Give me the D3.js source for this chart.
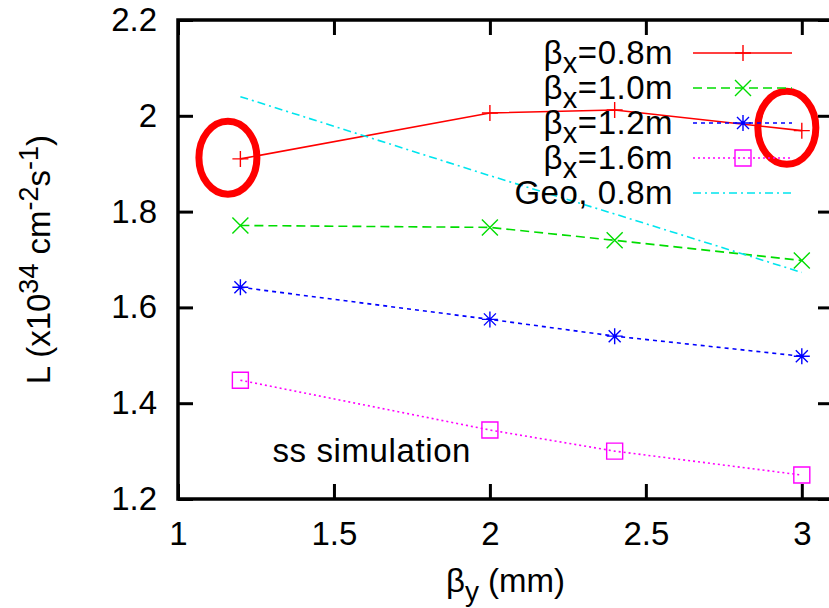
<!DOCTYPE html>
<html>
<head>
<meta charset="utf-8">
<script src="https://cdn.jsdelivr.net/npm/d3@7"></script>
<style>
body { margin: 0; background: #fff; }
svg { display: block; }
text { font-family: "Liberation Sans", Arial, sans-serif; fill: #000; }
</style>
</head>
<body>
<div id="chart"></div>
<script>
// values
var betaY = [1.2, 2.0, 2.4, 3.0];
var lumi08 = [1.910, 2.006, 2.012, 1.969];
var lumi10 = [1.771, 1.767, 1.740, 1.698];
var lumi12 = [1.642, 1.575, 1.540, 1.498];
var lumi16 = [1.448, 1.344, 1.300, 1.250];
var geo08 = [2.040, 1.875, 1.795, 1.673];
var legendLabels = ["=0.8m", "=1.0m", "=1.2m", "=1.6m", "Geo, 0.8m"];
var xTicks = [1, 1.5, 2, 2.5, 3];
var yTicks = [1.2, 1.4, 1.6, 1.8, 2, 2.2];
// red rings drawn over the plot (data coords)
var ringX = [1.16, 2.952];
var ringY = [1.9125, 1.975];

// settings
var margin = {top: 20, right: 0, bottom: 0, left: 178},
    width = 655,
    height = 479;

var svg = d3.select("#chart")
  .append("svg")
  .attr("width", 829)
  .attr("height", 608)
  .style("overflow", "hidden");

var g = svg.append("g")
  .attr("transform", "translate(" + margin.left + "," + margin.top + ")");

var x = d3.scaleLinear().domain([1, 3.1]).range([0, width]);
var y = d3.scaleLinear().domain([1.2, 2.2]).range([height, 0]);

var fmt = function(d) { return String(d); };

// axes, ticks pointing inward on all four sides
var xAxis = g.append("g")
  .attr("transform", "translate(0," + height + ")")
  .call(d3.axisBottom(x).tickValues(xTicks).tickFormat(fmt).tickSizeInner(-15).tickSizeOuter(0).tickPadding(23));
var yAxis = g.append("g")
  .call(d3.axisLeft(y).tickValues(yTicks).tickFormat(fmt).tickSizeInner(-15).tickSizeOuter(0).tickPadding(21));
var xTop = g.append("g")
  .call(d3.axisTop(x).tickValues(xTicks).tickFormat("").tickSizeInner(-15).tickSizeOuter(0));
var yRight = g.append("g")
  .attr("transform", "translate(" + width + ",0)")
  .call(d3.axisRight(y).tickValues(yTicks).tickFormat("").tickSizeInner(-15).tickSizeOuter(0));

[xAxis, yAxis, xTop, yRight].forEach(function(a) {
  a.select(".domain").remove();
  a.selectAll(".tick line").attr("stroke", "#000").attr("stroke-width", 3);
  a.selectAll(".tick text").style("font-size", "33px").attr("fill", "#000");
});

g.append("rect")
  .attr("width", width)
  .attr("height", height)
  .attr("fill", "none")
  .attr("stroke", "#000")
  .attr("stroke-width", 3.5);

// series
var series = [
  {vals: lumi08, color: "#ff0000", dash: null, marker: "plus"},
  {vals: lumi10, color: "#00dd00", dash: "9,5", marker: "cross"},
  {vals: lumi12, color: "#0000ff", dash: "4,4", marker: "star"},
  {vals: lumi16, color: "#ff00ff", dash: "2,3", marker: "square"},
  {vals: geo08, color: "#00e5ee", dash: "8,4,2,4", marker: null}
];

function markerPath(type, s) {
  if (type == "plus") return "M" + (-s) + ",0H" + s + "M0," + (-s) + "V" + s;
  if (type == "cross") return "M" + (-s) + "," + (-s) + "L" + s + "," + s + "M" + (-s) + "," + s + "L" + s + "," + (-s);
  if (type == "star") return markerPath("plus", s) + markerPath("cross", s * 0.75);
  if (type == "square") return "M" + (-s) + "," + (-s) + "H" + s + "V" + s + "H" + (-s) + "Z";
  return "";
}

var line = d3.line()
  .x(function(d) { return x(d[0]); })
  .y(function(d) { return y(d[1]); });

series.forEach(function(s) {
  var pts = betaY.map(function(b, i) { return [b, s.vals[i]]; });
  g.append("path")
    .datum(pts)
    .attr("d", line)
    .attr("fill", "none")
    .attr("stroke", s.color)
    .attr("stroke-width", 1.6)
    .attr("stroke-dasharray", s.dash);
  if (s.marker) {
    g.selectAll(null)
      .data(pts)
      .enter()
      .append("path")
      .attr("transform", function(d) { return "translate(" + x(d[0]) + "," + y(d[1]) + ")"; })
      .attr("d", markerPath(s.marker, 8))
      .attr("fill", "none")
      .attr("stroke", s.color)
      .attr("stroke-width", 1.4);
  }
});

// legend
var legend = svg.append("g");
series.forEach(function(s, i) {
  var ly = 53 + i * 35;
  var t = legend.append("text")
    .attr("x", 673)
    .attr("y", ly + 11)
    .attr("text-anchor", "end")
    .style("font-size", "33px")
    .style("letter-spacing", "0.5px");
  if (i < 4) {
    t.append("tspan").text("β");
    t.append("tspan").attr("dy", 9).style("font-size", "29px").text("x");
    t.append("tspan").attr("dy", -9).text(legendLabels[i]);
  } else {
    t.text(legendLabels[i]);
  }
  legend.append("line")
    .attr("x1", 693).attr("x2", 792)
    .attr("y1", ly).attr("y2", ly)
    .attr("stroke", s.color)
    .attr("stroke-width", 1.6)
    .attr("stroke-dasharray", s.dash);
  if (s.marker) {
    legend.append("path")
      .attr("transform", "translate(743," + ly + ")")
      .attr("d", markerPath(s.marker, 8))
      .attr("fill", "none")
      .attr("stroke", s.color)
      .attr("stroke-width", 1.4);
  }
});

g.append("text")
  .attr("x", x(1.303))
  .attr("y", y(1.2) - 37)
  .style("font-size", "33px")
  .style("letter-spacing", "0.6px")
  .text("ss simulation");

// axis titles
var xl = svg.append("text")
  .attr("x", margin.left + width / 2)
  .attr("y", 592)
  .attr("text-anchor", "middle")
  .style("font-size", "33px");
xl.append("tspan").text("β");
xl.append("tspan").attr("dy", 9).style("font-size", "28px").text("y");
xl.append("tspan").attr("dy", -9).text(" (mm)");

var yl = svg.append("text")
  .attr("transform", "translate(50," + (margin.top + height / 2) + ") rotate(-90)")
  .attr("text-anchor", "middle")
  .style("font-size", "33px");
yl.append("tspan").text("L (x10");
yl.append("tspan").attr("dy", -12).style("font-size", "27px").text("34");
yl.append("tspan").attr("dy", 12).text(" cm");
yl.append("tspan").attr("dy", -12).style("font-size", "27px").text("-2");
yl.append("tspan").attr("dy", 12).text("s");
yl.append("tspan").attr("dy", -12).style("font-size", "27px").text("-1");
yl.append("tspan").attr("dy", 12).text(")");

// red rings
g.selectAll(".ring")
  .data(ringX)
  .enter()
  .append("ellipse")
  .attr("class", "ring")
  .attr("cx", function(d) { return x(d); })
  .attr("cy", function(d, i) { return y(ringY[i]); })
  .attr("rx", 29)
  .attr("ry", 36.5)
  .attr("fill", "none")
  .attr("stroke", "#ff0000")
  .attr("stroke-width", 7);
</script>
</body>
</html>
